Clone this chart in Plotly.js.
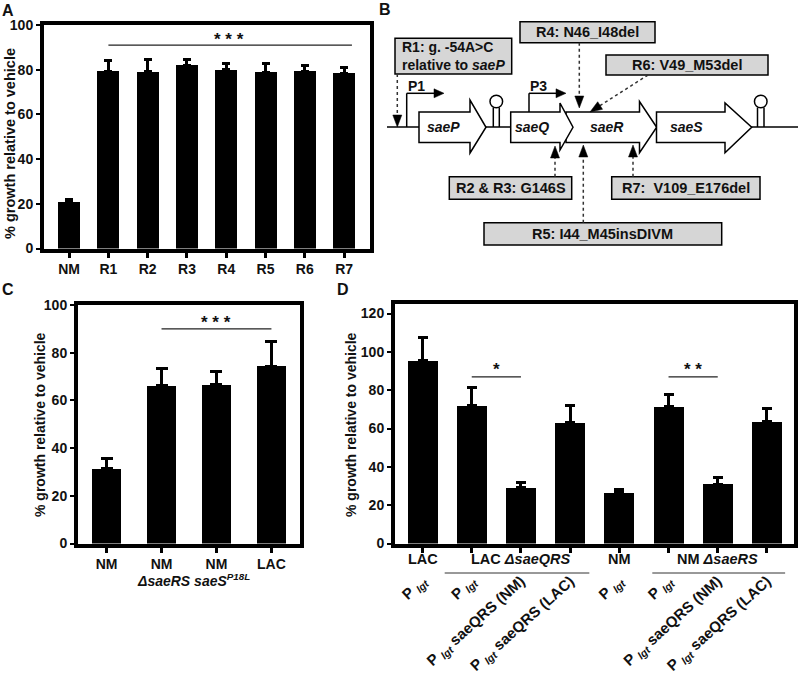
<!DOCTYPE html>
<html><head><meta charset="utf-8">
<script src="https://cdn.plot.ly/plotly-3.0.1.min.js"></script>
<style>html,body{margin:0;padding:0;background:#fff}#chart{width:800px;height:677px}</style>
</head><body><div id="chart"></div>
<script>
// ---------- Panel A data ----------
const aCategories = ['NM', 'R1', 'R2', 'R3', 'R4', 'R5', 'R6', 'R7'];
const aValues = [21, 79.4, 79, 82, 80, 78.8, 79.3, 78.4];
const aErrorTop = [22, 84, 84.7, 84.4, 82.7, 82.7, 82.1, 81];

// ---------- Panel C data ----------
const cTickLabels = ['NM', 'NM', 'NM', 'LAC'];
const cValues = [31.3, 66.1, 66.5, 74.4];
const cErrorTop = [35.7, 73.3, 72.3, 84.6];

// ---------- Panel D data ----------
const dTickLabels = [
  'P <sub><i>lgt</i></sub>',
  'P <sub><i>lgt</i></sub>',
  'P <sub><i>lgt</i></sub> saeQRS (NM)',
  'P <sub><i>lgt</i></sub> saeQRS (LAC)',
  'P <sub><i>lgt</i></sub>',
  'P <sub><i>lgt</i></sub>',
  'P <sub><i>lgt</i></sub> saeQRS (NM)',
  'P <sub><i>lgt</i></sub> saeQRS (LAC)'
];
const dGroupLabels = ['LAC', 'LAC <i>ΔsaeQRS</i>', 'NM', 'NM <i>ΔsaeRS</i>'];
const dValues = [95.3, 71.8, 29.0, 62.9, 26.4, 71.5, 30.8, 63.5];
const dErrorTop = [107.5, 81.4, 31.6, 71.8, 28.3, 77.8, 34.2, 70.6];

// ---------- helpers ----------
const W = 800, H = 677;
const FONT = 'Liberation Sans, Arial, sans-serif';
const px = v => v / W;
const py = v => 1 - v / H;
const idx = arr => arr.map((_, i) => i);
const plus = (top, val) => top.map((t, i) => +(t - val[i]).toFixed(2));
const zeros = arr => arr.map(() => 0);

function barTrace(vals, tops, xa, ya, width, capw) {
  return {
    type: 'bar', x: idx(vals), y: vals, xaxis: xa, yaxis: ya, width: width,
    marker: {color: '#000', line: {width: 0}}, hoverinfo: 'skip', showlegend: false,
    error_y: {type: 'data', symmetric: false, array: plus(tops, vals), arrayminus: zeros(vals),
      color: '#000', thickness: 3, width: capw}
  };
}

const traces = [
  barTrace(aValues, aErrorTop, 'x', 'y', 0.56, 4),
  barTrace(cValues, cErrorTop, 'x2', 'y2', 0.54, 6),
  barTrace(dValues, dErrorTop, 'x3', 'y3', 0.61, 5)
];

const tickFont = {family: FONT, size: 14, color: '#111', weight: 'bold'};
function xAxis(dom, range, n, ticktext, extra) {
  return Object.assign({
    domain: dom, range: range, tickmode: 'array', tickvals: [...Array(n).keys()], ticktext: ticktext,
    ticks: 'outside', ticklen: 5, tickwidth: 3, tickcolor: '#000',
    showline: true, mirror: true, linewidth: 4, linecolor: '#000',
    showgrid: false, zeroline: false, fixedrange: true,
    tickfont: tickFont
  }, extra || {});
}
function yAxis(dom, range, tickvals, anchor) {
  return {
    domain: dom, range: range, tickmode: 'array', tickvals: tickvals, anchor: anchor,
    ticks: 'outside', ticklen: 4, tickwidth: 2, tickcolor: '#000',
    showline: true, mirror: true, linewidth: 4, linecolor: '#000',
    showgrid: false, zeroline: false, fixedrange: true,
    tickfont: tickFont
  };
}

const shapes = [];
const annotations = [];

function sigLine(xr, yr, x0, x1, y) {
  shapes.push({type: 'line', xref: xr, yref: yr, x0: x0, x1: x1, y0: y, y1: y,
    line: {color: '#222', width: 1.3}});
}
function ann(o) {
  const font = Object.assign({family: FONT, size: 14.5, color: '#111', weight: 'bold'}, o.font || {});
  annotations.push(Object.assign({showarrow: false, xanchor: 'center', yanchor: 'middle'}, o, {font: font}));
}

sigLine('x', 'y', 1, 7.2, 91);
ann({xref: 'x', yref: 'y', x: 4.07, y: 93.5, text: '* * *', font: {size: 17}});
sigLine('x2', 'y2', 1, 3, 90);
ann({xref: 'x2', yref: 'y2', x: 2, y: 92.5, text: '* * *', font: {size: 17}});
sigLine('x3', 'y3', 1, 2, 87);
ann({xref: 'x3', yref: 'y3', x: 1.5, y: 91, text: '*', font: {size: 17}});
sigLine('x3', 'y3', 5, 6, 87);
ann({xref: 'x3', yref: 'y3', x: 5.5, y: 91, text: '* *', font: {size: 17}});

// panel letters
ann({xref: 'paper', yref: 'paper', x: px(8), y: py(10), text: 'A', font: {size: 16}});
ann({xref: 'paper', yref: 'paper', x: px(385), y: py(9), text: 'B', font: {size: 16}});
ann({xref: 'paper', yref: 'paper', x: px(8), y: py(289), text: 'C', font: {size: 16}});
ann({xref: 'paper', yref: 'paper', x: px(343), y: py(289), text: 'D', font: {size: 16}});

// y titles
const yTitle = '% growth relative to vehicle';
ann({xref: 'paper', yref: 'paper', x: px(10), y: py(144), text: yTitle, textangle: -90});
ann({xref: 'paper', yref: 'paper', x: px(40), y: py(425), text: yTitle, textangle: -90, font: {size: 14}});
ann({xref: 'paper', yref: 'paper', x: px(351), y: py(425), text: yTitle, textangle: -90, font: {size: 14}});

// C second-line label
ann({xref: 'x2', yref: 'paper', x: 1.59, y: py(580), text: '<i>ΔsaeRS saeS</i><sup><i>P18L</i></sup>', font: {size: 14}});

// D group labels
const dGroupPos = [0, 2, 4, 6];
dGroupLabels.forEach((t, i) => ann({xref: 'x3', yref: 'paper', x: dGroupPos[i], y: py(559), text: t}));
shapes.push({type: 'line', xref: 'x3', yref: 'paper', x0: 0.45, x1: 3.39, y0: py(573), y1: py(573), line: {color: '#333', width: 1}});
shapes.push({type: 'line', xref: 'x3', yref: 'paper', x0: 4.67, x1: 7.37, y0: py(573), y1: py(573), line: {color: '#333', width: 1}});

// ---------- Panel B diagram (axes x4/y4 in page pixels) ----------
const R = {xref: 'x4', yref: 'y4'};
function L(x0, y0, x1, y1, w, dash, color) {
  shapes.push(Object.assign({type: 'line', x0, y0, x1, y1, line: {color: color || '#000', width: w || 1.5, dash: dash || 'solid'}}, R));
}
function P(path, fill, lw) {
  shapes.push(Object.assign({type: 'path', path, fillcolor: fill, line: {color: '#000', width: lw === undefined ? 1.5 : lw}}, R));
}
function gene(x0, x1, xt, yT, yB, hT, hB) {
  const yc = (yT + yB) / 2;
  P(`M${x0},${yT} L${x1},${yT} L${x1},${hT} L${xt},${yc} L${x1},${hB} L${x1},${yB} L${x0},${yB} Z`, '#fff', 1.5);
}
function head(xs, ys, xt, yt, len, hw) {
  const dx = xt - xs, dy = yt - ys, d = Math.hypot(dx, dy);
  const ux = dx / d, uy = dy / d;
  const bx = xt - ux * len, by = yt - uy * len;
  const nx = -uy * hw, ny = ux * hw;
  P(`M${xt},${yt} L${bx + nx},${by + ny} L${bx - nx},${by - ny} Z`, '#000', 0.5);
}
function dotArrow(xs, ys, xt, yt) {
  const dx = xt - xs, dy = yt - ys, d = Math.hypot(dx, dy);
  const bx = xt - dx / d * 11, by = yt - dy / d * 11;
  L(xs, ys, bx, by, 1.5, 'dot', '#333');
  head(xs, ys, xt, yt, 12, 4.5);
}
function terminator(xa, xb) {
  L(xa, 127, xa, 107.5, 1.5);
  L(xb, 127, xb, 107.5, 1.5);
  const xc = (xa + xb) / 2;
  shapes.push(Object.assign({type: 'circle', x0: xc - 6.3, x1: xc + 6.3, y0: 95.2, y1: 107.8, line: {color: '#000', width: 1.5}, fillcolor: '#fff'}, R));
}
function box(x0, y0, x1, y1) {
  shapes.push(Object.assign({type: 'rect', x0, y0, x1, y1, fillcolor: '#d6d6d6', line: {color: '#000', width: 1.5}}, R));
}

// backbone
L(387, 127, 798, 127, 1.5);
// genes
gene(419, 470, 486, 112, 142.5, 100, 153);
gene(566, 639.5, 656.7, 112, 142.5, 101.5, 152.7);
gene(510.7, 560, 573, 112, 142.5, 103, 150);
gene(656.5, 725, 751.7, 112, 142.5, 103, 152.7);
terminator(493.3, 499.3);
terminator(757.5, 764);
// promoters
L(406.7, 127, 406.7, 93.3, 1.5); L(406.7, 93.3, 436, 93.3, 1.5); head(406.7, 93.3, 444, 93.3, 10, 4.5);
L(529, 112, 529, 93.3, 1.5); L(529, 93.3, 557, 93.3, 1.5); head(529, 93.3, 566, 93.3, 10, 4.5);
ann({xref: 'x4', yref: 'y4', x: 416, y: 86, text: 'P1', font: {size: 14}});
ann({xref: 'x4', yref: 'y4', x: 538, y: 86, text: 'P3', font: {size: 14}});
// gene names
[['saeP', 443.5], ['saeQ', 531.5], ['saeR', 606.5], ['saeS', 686]].forEach(g =>
  ann({xref: 'x4', yref: 'y4', x: g[1], y: 127, text: '<i>' + g[0] + '</i>', font: {size: 14}}));

// mutation boxes
box(395, 38.3, 511.7, 74);
ann({xref: 'x4', yref: 'y4', x: 400, y: 56, xanchor: 'left', align: 'left', text: 'R1: g. -54A&gt;C<br>relative to <i>saeP</i>', font: {size: 14}});
box(520, 21.7, 655, 42.7);
ann({xref: 'x4', yref: 'y4', x: 587.5, y: 32.2, text: 'R4: N46_I48del'});
box(606, 55, 768, 75);
ann({xref: 'x4', yref: 'y4', x: 687, y: 65, text: 'R6: V49_M53del'});
box(449.3, 176.7, 571.7, 199.3);
ann({xref: 'x4', yref: 'y4', x: 510.5, y: 188, text: 'R2 &amp; R3: G146S'});
box(611.7, 176.7, 760, 199.3);
ann({xref: 'x4', yref: 'y4', x: 685.8, y: 188, text: 'R7:  V109_E176del'});
box(484, 222.7, 721.7, 245);
ann({xref: 'x4', yref: 'y4', x: 602.8, y: 233.8, text: 'R5: I44_M45insDIVM'});

// dotted arrows
dotArrow(397.3, 74, 397.3, 127);
dotArrow(579.3, 42.7, 579.3, 108);
dotArrow(648, 75, 590, 112);
dotArrow(555, 176.7, 555, 146);
dotArrow(583.3, 222.7, 583.3, 145);
dotArrow(633, 176.7, 633, 145);

const layout = {
  width: W, height: H, margin: {l: 0, r: 0, t: 0, b: 0},
  paper_bgcolor: '#fff', plot_bgcolor: 'rgba(0,0,0,0)',
  showlegend: false, bargap: 0,
  font: {family: FONT, color: '#111'},
  xaxis: xAxis([px(44), px(370)], [-0.64, 7.66], aCategories.length, aCategories, {anchor: 'y'}),
  yaxis: yAxis([py(248.5), py(25)], [0, 100], [0, 20, 40, 60, 80, 100], 'x'),
  xaxis2: xAxis([px(78), px(300)], [-0.52, 3.52], cTickLabels.length, cTickLabels, {anchor: 'y2'}),
  yaxis2: yAxis([py(543.5), py(305)], [0, 100], [0, 20, 40, 60, 80, 100], 'x2'),
  xaxis3: xAxis([px(395), px(793.5)], [-0.56, 7.54], dTickLabels.length, dTickLabels,
    {anchor: 'y3', tickangle: -42, ticklabelstandoff: 14, tickfont: {family: FONT, size: 15, color: '#111', weight: 'bold'}}),
  yaxis3: yAxis([py(543.5), py(304)], [0, 125], [0, 20, 40, 60, 80, 100, 120], 'x3'),
  xaxis4: {domain: [px(380), 1], range: [380, 800], visible: false, fixedrange: true, anchor: 'y4'},
  yaxis4: {domain: [py(270), 1], range: [270, 0], visible: false, fixedrange: true, anchor: 'x4'},
  shapes: shapes,
  annotations: annotations
};

Plotly.newPlot('chart', traces, layout, {displayModeBar: false, staticPlot: true});
</script>
</body></html>
